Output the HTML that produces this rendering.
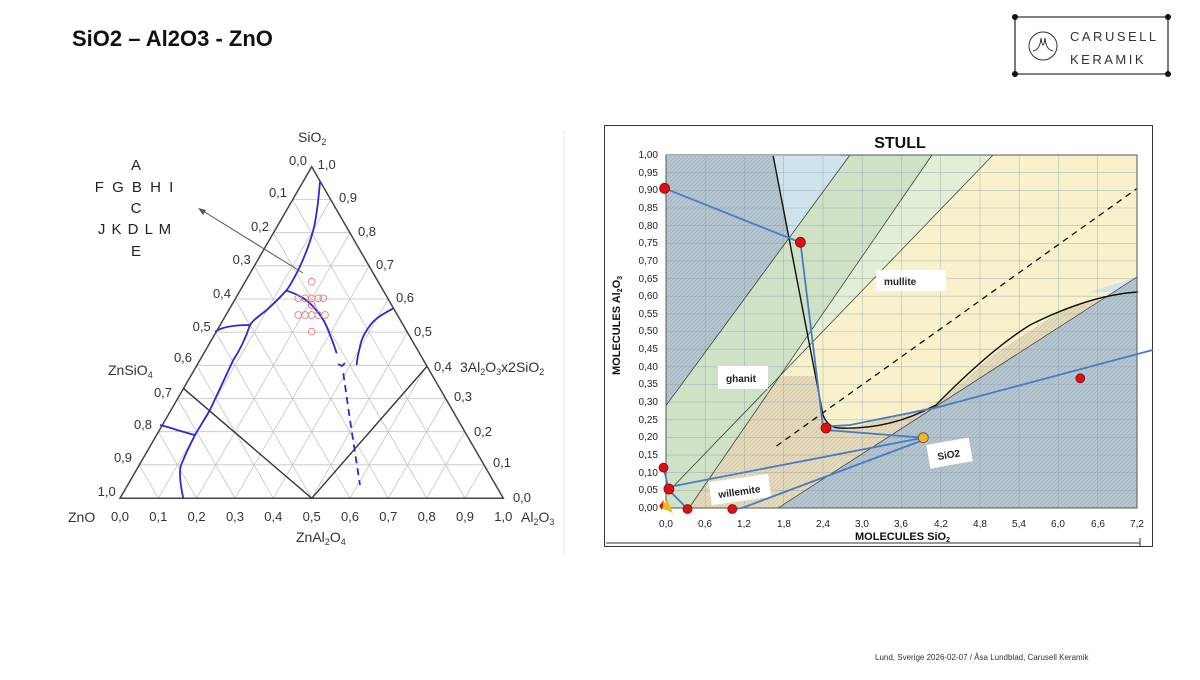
<!DOCTYPE html>
<html><head><meta charset="utf-8"><style>
body{margin:0;width:1200px;height:675px;background:#fff;overflow:hidden;font-family:"Liberation Sans",sans-serif}
</style></head><body>
<svg width="1200" height="675" viewBox="0 0 1200 675" xmlns="http://www.w3.org/2000/svg" font-family="Liberation Sans, sans-serif">
<defs>
<pattern id="h" width="4" height="4" patternUnits="userSpaceOnUse"><rect width="4" height="4" fill="#b7c7d1"/><path d="M0 4L4 0" stroke="#9fb1bd" stroke-width="0.7"/></pattern>
<pattern id="t" width="4" height="4" patternUnits="userSpaceOnUse"><rect width="4" height="4" fill="#e6dcbd"/><path d="M0 4L4 0" stroke="#cfc4a4" stroke-width="0.7"/></pattern>
</defs>
<text x="72" y="46" font-size="22" font-weight="bold" fill="#111">SiO2 – Al2O3 - ZnO</text>
<g stroke="#333" fill="none" stroke-width="1.3">
<line x1="1015" y1="17" x2="1168" y2="17"/><line x1="1015" y1="74" x2="1168" y2="74"/>
<line x1="1015" y1="17" x2="1015" y2="74"/><line x1="1168" y1="17" x2="1168" y2="74"/>
<circle cx="1043" cy="46" r="14" stroke-width="1"/>
<path d="M1033 51 Q1040 50 1041 38 Q1043 52 1045 38 Q1046 50 1053 51" stroke-width="1"/>
</g>
<g fill="#111"><circle cx="1015" cy="17" r="3"/><circle cx="1168" cy="17" r="3"/><circle cx="1015" cy="74" r="3"/><circle cx="1168" cy="74" r="3"/></g>
<text x="1070" y="41" font-size="13" letter-spacing="2.5" fill="#333">CARUSELL</text>
<text x="1070" y="64" font-size="13" letter-spacing="2.5" fill="#333">KERAMIK</text>
<text x="875" y="660" font-size="8" fill="#333">Lund, Sverige 2026-02-07 / Åsa Lundblad, Carusell Keramik</text>

<line x1="564" y1="130" x2="564" y2="555" stroke="#e4e4e4"/>
<g stroke="#c4c4c4" stroke-width="0.8" fill="none">
<path d="M139.2 464.8H484.2M158.3 431.7H465M177.5 398.5H445.8M196.6 365.3H426.7M215.8 332.2H407.5M235 299H388.3M254.1 265.8H369.2M273.3 232.7H350M292.4 199.5H330.9"/>
<path d="M158.3 498.3L330.9 199.5M196.6 498.3L350 232.7M235 498.3L369.2 265.8M273.3 498.3L388.3 299M311.7 498.3L407.5 332.2M350 498.3L426.7 365.3M388.3 498.3L445.8 398.5M426.7 498.3L465 431.7M465 498.3L484.2 464.8"/>
<path d="M465 498.3L292.4 199.5M426.7 498.3L273.3 232.7M388.3 498.3L254.1 265.8M350 498.3L235 299M311.7 498.3L215.8 332.2M273.3 498.3L196.6 365.3M235 498.3L177.5 398.5M196.6 498.3L158.3 431.7M158.3 498.3L139.2 464.8"/>
</g>
<path d="M120 498.3L311.7 166.7L503.3 498.3Z" fill="none" stroke="#444" stroke-width="1.5"/>
<path d="M183.3 388.3L311.7 498.3L426.7 366.7" fill="none" stroke="#333" stroke-width="1.4"/>
<g stroke="#2a2ad0" stroke-width="1.8" fill="none">
<path d="M320 181.7C318 205 316 220 313.3 230C308 250 302 262 298.3 270C293 280 290 286 286.7 290C278 300 272 305 266.7 310C258 317 253 320 250 325C245 340 240 350 233.3 360C224 380 217 395 210 410C203 422 199 428 195 435C189 447 185 455 183.3 460C180 466 180 470 180 473C180 485 182 492 183.3 498"/>
<path d="M215 331.7C222 327 235 325 250 325"/>
<path d="M160 425C168 427 172 428 176.7 430C185 432 190 434 195 435"/>
<path d="M286.7 290.7C300 295 307 300 313.3 306.7C320 314 324 320 326.7 326.7C331 337 334 345 336.7 353.3"/>
<path d="M393.3 308.3C383 314 376 318 371.7 323.3C364 333 361 340 360 346.7C358 354 357 360 356.7 365"/>
<path d="M343.3 373.3L350 420L360 485" stroke-dasharray="7 5"/>
<path d="M338 364L342 366L345 363"/>
</g>
<g stroke="#e87a7a" fill="none" stroke-width="0.9">
<circle cx="311.7" cy="281.7" r="3.4"/>
<circle cx="298.3" cy="298.3" r="3.4"/><circle cx="305" cy="298.3" r="3.4"/><circle cx="311.7" cy="298.3" r="3.4"/><circle cx="318.3" cy="298.3" r="3.4"/><circle cx="323.3" cy="298.3" r="3.4"/>
<circle cx="311.7" cy="305" r="3.4"/>
<circle cx="298.3" cy="315" r="3.4"/><circle cx="305" cy="315" r="3.4"/><circle cx="311.7" cy="315" r="3.4"/><circle cx="318.3" cy="315" r="3.4"/><circle cx="325" cy="315" r="3.4"/>
<circle cx="311.7" cy="331.7" r="3.4"/>
</g>
<line x1="303" y1="273" x2="203" y2="211" stroke="#555" stroke-width="1"/>
<path d="M198 208L206 210L203 215Z" fill="#555"/>
<g font-size="15" fill="#222" text-anchor="middle">
<text x="136" y="170">A</text>
<text x="135" y="192" letter-spacing="2">F G B H  I</text>
<text x="136" y="213">C</text>
<text x="135" y="234" letter-spacing="1">J  K D L M</text>
<text x="136" y="256">E</text>
</g>
<g font-size="13" fill="#333" text-anchor="middle">
<text x="298" y="165">0,0</text><text x="278" y="197">0,1</text><text x="260" y="231">0,2</text><text x="241.7" y="264">0,3</text><text x="222" y="298">0,4</text><text x="201.7" y="331">0,5</text><text x="183" y="362">0,6</text><text x="163" y="397">0,7</text><text x="143" y="429">0,8</text><text x="123" y="462">0,9</text><text x="106.7" y="496">1,0</text>
<text x="326.7" y="169">1,0</text><text x="348" y="202">0,9</text><text x="367" y="236">0,8</text><text x="385" y="269">0,7</text><text x="405" y="302">0,6</text><text x="423" y="336">0,5</text><text x="443" y="371">0,4</text><text x="463" y="401">0,3</text><text x="483" y="436">0,2</text><text x="502" y="467">0,1</text><text x="522" y="502">0,0</text>
<text x="120" y="521">0,0</text><text x="158.3" y="521">0,1</text><text x="196.6" y="521">0,2</text><text x="235" y="521">0,3</text><text x="273.3" y="521">0,4</text><text x="311.7" y="521">0,5</text><text x="350" y="521">0,6</text><text x="388.3" y="521">0,7</text><text x="426.7" y="521">0,8</text><text x="465" y="521">0,9</text><text x="503.3" y="521">1,0</text>
</g>
<g font-size="14" fill="#333">
<text x="68" y="522">ZnO</text>
<text x="521" y="522">Al<tspan font-size="9" dy="3">2</tspan><tspan dy="-3">O</tspan><tspan font-size="9" dy="3">3</tspan></text>
<text x="296" y="542">ZnAl<tspan font-size="9" dy="3">2</tspan><tspan dy="-3">O</tspan><tspan font-size="9" dy="3">4</tspan></text>
<text x="108" y="375">ZnSiO<tspan font-size="9" dy="3">4</tspan></text>
<text x="298" y="142">SiO<tspan font-size="9" dy="3">2</tspan></text>
<text x="460" y="372">3Al<tspan font-size="9" dy="3">2</tspan><tspan dy="-3">O</tspan><tspan font-size="9" dy="3">3</tspan><tspan dy="-3">x2SiO</tspan><tspan font-size="9" dy="3">2</tspan></text>
</g>

<rect x="604.5" y="125.5" width="548" height="421" fill="#fff" stroke="#333"/>
<line x1="606" y1="543" x2="1140" y2="543" stroke="#333"/>
<line x1="1140" y1="538" x2="1140" y2="546" stroke="#333"/>
<rect x="666" y="155" width="471" height="353" fill="url(#h)"/>
<polygon points="689,508 780,376 993,155 1137,155 1137,277 778,508" fill="url(#t)"/>
<polygon points="780,376 993,155 1137,155 1137,292 1065,308 993,355 936,405 850,428 832,427 823,415 815,376" fill="#f8f1cc"/>
<polygon points="780,376 932,155 993,155" fill="#e0efd6"/>
<polygon points="666,405.6 850,155 932,155 689,508 666,508" fill="#cfe2c6"/>
<polygon points="773,155 850,155 789,238" fill="#cfe3ec"/>
<polygon points="1090,292 1137,277 1137,292" fill="#cfe3ec"/>
<polygon points="778,508 1137,277 1137,508" fill="url(#h)"/>
<g stroke="#8899a4" stroke-width="0.6" opacity="0.6">
<path d="M666 172.6H1137M666 190.3H1137M666 208H1137M666 225.6H1137M666 243.3H1137M666 260.9H1137M666 278.6H1137M666 296.2H1137M666 313.9H1137M666 331.5H1137M666 349.2H1137M666 366.8H1137M666 384.5H1137M666 402.1H1137M666 419.8H1137M666 437.4H1137M666 455.1H1137M666 472.7H1137M666 490.4H1137"/>
<path d="M705.2 155V508M744.5 155V508M783.7 155V508M823 155V508M862.2 155V508M901.5 155V508M940.7 155V508M980 155V508M1019.2 155V508M1058.5 155V508M1097.7 155V508"/>
</g>
<g stroke="#333" stroke-width="0.7" fill="none">
<line x1="666" y1="405.6" x2="850" y2="155"/>
<line x1="689" y1="508" x2="932" y2="155"/>
<line x1="666" y1="494" x2="993" y2="155"/>
<line x1="778" y1="508" x2="1137" y2="277"/>
</g>
<path d="M773 155L823 415Q828 428 840 428Q890 430 936 405Q990 350 1030 325Q1090 295 1138 292" stroke="#111" stroke-width="1.4" fill="none"/>
<line x1="776.5" y1="446" x2="1137" y2="188.5" stroke="#111" stroke-width="1.3" stroke-dasharray="6 5"/>
<rect x="666" y="155" width="471" height="353" fill="none" stroke="#555"/>
<line x1="666" y1="155.5" x2="840" y2="155.5" stroke="#e8a0a0" stroke-width="1"/>
<g>
<rect x="876" y="270" width="70" height="21" fill="#fff"/>
<rect x="718" y="366" width="50" height="23" fill="#fff"/>
<rect x="928" y="441" width="43" height="24" fill="#fff" transform="rotate(-10 950 453)"/>
<rect x="710" y="478" width="60" height="23" fill="#fff" transform="rotate(-8 740 490)"/>
</g>
<g font-size="10" font-weight="bold" fill="#222">
<text x="884" y="285">mullite</text>
<text x="726" y="382">ghanit</text>
<text x="937" y="458" transform="rotate(-10 950 453)">SiO2</text>
<text x="718" y="495" transform="rotate(-8 740 490)">willemite</text>
</g>
<g stroke="#4a7cc4" stroke-width="1.8" fill="none">
<polyline points="664.6,188.3 789,238 800.4,242.3 823,426.7 826,430 923.3,437.7"/>
<polyline points="823,426.7 850,425 935.9,407.7 1152.7,350"/>
<polyline points="663.5,467.7 668.9,490 687.5,509"/>
<line x1="668.9" y1="487" x2="923.3" y2="437.7"/>
<polyline points="732.3,509 742,508 923.3,440"/>
</g>
<g fill="#dd1111" stroke="#7a1010" stroke-width="0.8">
<circle cx="664.6" cy="188.3" r="5"/><circle cx="800.4" cy="242.3" r="5"/><circle cx="826" cy="428" r="5"/>
<circle cx="1080.3" cy="378.3" r="4.5"/><circle cx="663.5" cy="467.7" r="4.5"/><circle cx="668.9" cy="489" r="5"/>
<circle cx="687.5" cy="509" r="4.5"/><circle cx="732.3" cy="509" r="4.5"/>
</g>
<circle cx="923.3" cy="437.7" r="5" fill="#f2b820" stroke="#555" stroke-width="0.8"/>
<path d="M661 508L667 499L673 513Z" fill="#f2b820"/><path d="M659 506L664 500L662 510Z" fill="#dd1111"/>
<text x="900" y="148" font-size="16" font-weight="bold" fill="#111" text-anchor="middle">STULL</text>
<g font-size="10" fill="#222" text-anchor="end">
<text x="658" y="158">1,00</text><text x="658" y="176">0,95</text><text x="658" y="193">0,90</text><text x="658" y="211">0,85</text><text x="658" y="229">0,80</text><text x="658" y="246">0,75</text><text x="658" y="264">0,70</text><text x="658" y="282">0,65</text><text x="658" y="299">0,60</text><text x="658" y="317">0,55</text><text x="658" y="334">0,50</text><text x="658" y="352">0,45</text><text x="658" y="370">0,40</text><text x="658" y="387">0,35</text><text x="658" y="405">0,30</text><text x="658" y="423">0,25</text><text x="658" y="440">0,20</text><text x="658" y="458">0,15</text><text x="658" y="476">0,10</text><text x="658" y="493">0,05</text><text x="658" y="511">0,00</text>
</g>
<g font-size="10" fill="#222" text-anchor="middle">
<text x="666" y="527">0,0</text><text x="705" y="527">0,6</text><text x="744" y="527">1,2</text><text x="784" y="527">1,8</text><text x="823" y="527">2,4</text><text x="862" y="527">3,0</text><text x="901" y="527">3,6</text><text x="941" y="527">4,2</text><text x="980" y="527">4,8</text><text x="1019" y="527">5,4</text><text x="1058" y="527">6,0</text><text x="1098" y="527">6,6</text><text x="1137" y="527">7,2</text>
</g>
<text x="855" y="540" font-size="11" font-weight="bold" fill="#111">MOLECULES  SiO<tspan font-size="7" dy="2">2</tspan></text>
<text transform="translate(620 375) rotate(-90)" font-size="11" font-weight="bold" fill="#111">MOLECULES   Al<tspan font-size="7" dy="2">2</tspan><tspan dy="-2">O</tspan><tspan font-size="7" dy="2">3</tspan></text>
</svg>
</body></html>
